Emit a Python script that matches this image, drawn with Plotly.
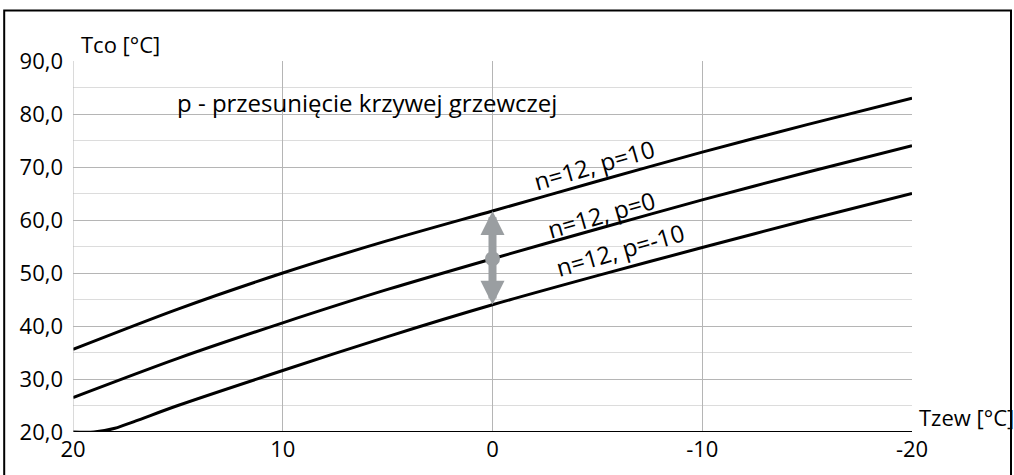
import plotly.graph_objects as go

# Outdoor temperature (Tzew) values
tzew = [20, 15, 10, 5, 0, -5, -10, -15, -20]
tzew_low = [20, 19, 18, 17, 15, 10, 5, 0, -5, -10, -15, -20]

# Supply temperature curves (Tco), n=12
tco_p10 = [35.6, 43.2, 50.0, 56.1, 61.7, 67.3, 72.8, 78.0, 83.0]
tco_p0 = [26.5, 33.9, 40.6, 46.9, 52.7, 58.3, 63.8, 69.0, 74.0]
tco_pm10 = [20.0, 20.0, 20.7, 22.1, 25.0, 31.6, 38.0, 44.0, 49.5, 54.8, 60.0, 65.0]

curve_labels = ["n=12, p=10", "n=12, p=0", "n=12, p=-10"]
label_x = [-4.86, -5.15, -6.1]
label_y = [70.5, 61.0, 54.5]

y_tickvals = [20, 30, 40, 50, 60, 70, 80, 90]
y_ticktext = ["20,0", "30,0", "40,0", "50,0", "60,0", "70,0", "80,0", "90,0"]
x_tickvals = [20, 10, 0, -10, -20]
x_ticktext = ["20", "10", "0", "-10", "-20"]

FONT = "Open Sans"
ARROW_COLOR = "#9a9ea1"

fig = go.Figure()
for xs, ys in [(tzew, tco_p10), (tzew, tco_p0), (tzew_low, tco_pm10)]:
    fig.add_trace(go.Scatter(x=xs, y=ys, mode="lines", line=dict(color="black", width=3, shape="spline", smoothing=0.8),
                             showlegend=False, hoverinfo="skip"))

# double arrow at Tzew=0 between p=10 and p=-10 curves, centre on p=0
i0 = tzew.index(0)
j0 = tzew_low.index(0)
for target in (tco_p10[i0], tco_pm10[j0]):
    fig.add_annotation(x=0, y=target, ax=0, ay=tco_p0[i0], xref="x", yref="y", axref="x", ayref="y",
                       text="", showarrow=True, arrowhead=2, arrowsize=0.6, arrowwidth=8,
                       arrowcolor=ARROW_COLOR, standoff=0, startstandoff=0)
fig.add_trace(go.Scatter(x=[0], y=[tco_p0[i0]], mode="markers",
                         marker=dict(color=ARROW_COLOR, size=15, line=dict(width=0)),
                         showlegend=False, hoverinfo="skip"))

for t, x, y in zip(curve_labels, label_x, label_y):
    fig.add_annotation(x=x, y=y, text=t, showarrow=False, textangle=-16,
                       font=dict(family=FONT, size=24, color="black"))

fig.add_annotation(x=6.0, y=82.2, text="p - przesunięcie krzywej grzewczej", showarrow=False,
                   font=dict(family=FONT, size=24, color="black"))

fig.add_annotation(x=0.007, y=1.0, xref="paper", yref="paper", text="Tco [°C]", showarrow=False,
                   xanchor="left", yanchor="bottom", font=dict(family=FONT, size=22, color="black"))
fig.add_annotation(x=1.006, y=-0.005, xref="paper", yref="paper", text="Tzew [°C]", showarrow=False,
                   xanchor="left", yanchor="bottom", font=dict(family=FONT, size=22, color="black"))

# outer frame
fig.add_shape(type="rect", xref="paper", yref="paper", x0=-0.082, x1=1.118, y0=-0.12, y1=1.136,
              line=dict(color="black", width=2), fillcolor="rgba(0,0,0,0)", layer="above")

fig.update_xaxes(range=[20, -20], tickvals=x_tickvals, ticktext=x_ticktext, showgrid=True,
                 gridcolor="#b5b5b5", gridwidth=1, zeroline=False, showline=False,
                 ticks="", ticklabelstandoff=2, tickfont=dict(family=FONT, size=22, color="black"))
fig.update_yaxes(range=[20, 90], tickvals=y_tickvals, ticktext=y_ticktext, showgrid=True,
                 gridcolor="#b5b5b5", gridwidth=1, zeroline=False, showline=False,
                 minor=dict(dtick=5, tick0=20, showgrid=True, gridcolor="#dcdcdc", gridwidth=1),
                 ticks="", ticklabelstandoff=9, tickfont=dict(family=FONT, size=22, color="black"))

# x axis baseline (black) and left axis line (gray)
fig.add_shape(type="line", xref="paper", yref="y", x0=0, x1=1, y0=20, y1=20, line=dict(color="black", width=2))
fig.add_shape(type="line", xref="x", yref="paper", x0=20, x1=20, y0=0, y1=1, line=dict(color="#b5b5b5", width=1))

fig.update_layout(width=1014, height=475, margin=dict(l=73, r=102, t=61, b=38),
                  plot_bgcolor="white", paper_bgcolor="white", font=dict(family=FONT))

fig.write_html("out.html", config={"displayModeBar": False},
               post_script="document.body.style.margin='0';document.body.style.overflow='hidden';")
